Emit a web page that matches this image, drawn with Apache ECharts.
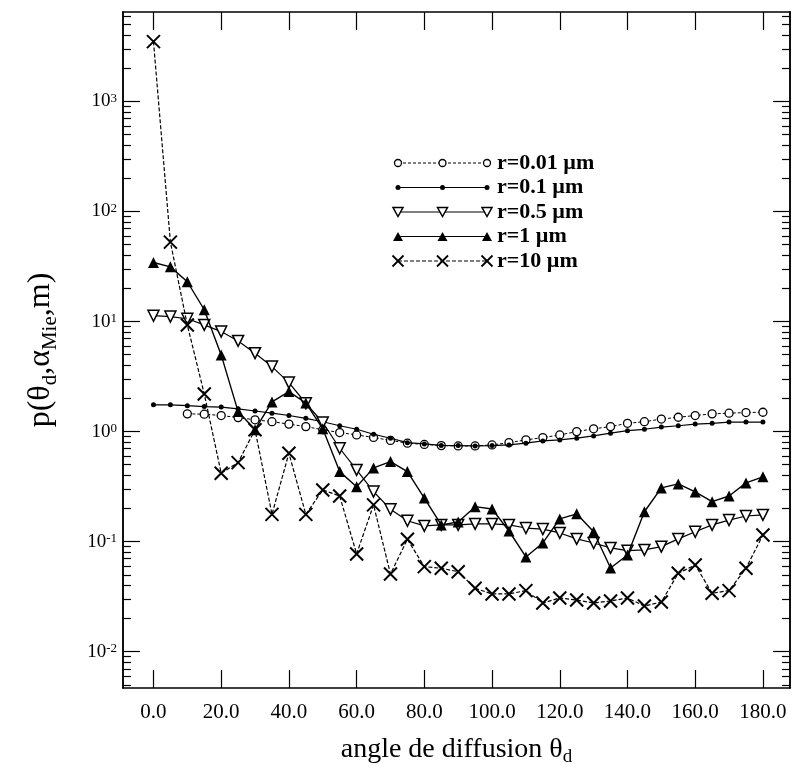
<!DOCTYPE html>
<html><head><meta charset="utf-8">
<script src="https://cdn.jsdelivr.net/npm/echarts@6/dist/echarts.min.js"></script>
<style>html,body{margin:0;padding:0;background:#fff}#c{width:794px;height:775px}</style>
</head><body><div id="c"></div>
<script>
// ---- data (angles in degrees, phase function values) ----
const angles = [0,5,10,15,20,25,30,35,40,45,50,55,60,65,70,75,80,85,90,95,100,105,110,115,120,125,130,135,140,145,150,155,160,165,170,175,180];
const r001 = [null,null,1.45,1.44,1.40,1.34,1.28,1.23,1.17,1.11,1.04,0.98,0.933,0.885,0.832,0.785,0.765,0.746,0.741,0.741,0.757,0.794,0.841,0.882,0.933,1.0,1.06,1.11,1.19,1.23,1.30,1.35,1.40,1.45,1.47,1.49,1.50];
const r01  = [1.75,1.75,1.72,1.69,1.67,1.61,1.54,1.47,1.40,1.32,1.23,1.13,1.05,0.947,0.871,0.794,0.773,0.749,0.746,0.741,0.746,0.757,0.785,0.823,0.841,0.871,0.914,0.967,1.02,1.05,1.10,1.13,1.17,1.19,1.22,1.22,1.22];
const r05  = [11.3,11.1,10.6,9.33,8.11,6.67,5.16,3.90,2.79,1.81,1.21,0.706,0.449,0.285,0.197,0.155,0.139,0.142,0.142,0.145,0.145,0.142,0.133,0.130,0.120,0.106,0.0973,0.0877,0.0828,0.0841,0.0901,0.106,0.123,0.142,0.157,0.171,0.175];
const r1   = [34.4,31.4,23.0,12.8,4.98,1.52,1.04,1.86,2.31,1.82,1.06,0.433,0.316,0.468,0.534,0.433,0.249,0.142,0.151,0.208,0.198,0.125,0.0726,0.0973,0.161,0.179,0.123,0.0577,0.0757,0.187,0.308,0.335,0.283,0.231,0.260,0.342,0.388];
const r10  = [3500,52.7,9.3,2.2,0.419,0.523,1.04,0.177,0.636,0.177,0.295,0.26,0.0773,0.216,0.0508,0.105,0.0593,0.0573,0.0533,0.0377,0.0335,0.0335,0.0359,0.0277,0.0308,0.0295,0.0277,0.0289,0.0308,0.026,0.0283,0.0516,0.0614,0.034,0.0359,0.0573,0.115];
const seriesNames = ['r=0.01 \u00b5m','r=0.1 \u00b5m','r=0.5 \u00b5m','r=1 \u00b5m','r=10 \u00b5m'];
const xTicks = [0,20,40,60,80,100,120,140,160,180];
const yMajor = [0.01,0.1,1,10,100,1000];
const yMinor = [0.005,0.006,0.007,0.008,0.009,0.02,0.03,0.04,0.05,0.06,0.07,0.08,0.09,0.2,0.3,0.4,0.5,0.6,0.7,0.8,0.9,2,3,4,5,6,7,8,9,20,30,40,50,60,70,80,90,200,300,400,500,600,700,800,900,2000,3000,4000,5000,6000];
const X_MIN = -9, X_MAX = 188, Y_MIN = 0.00468, Y_MAX = 6500;

const FONT = '"Liberation Serif", "Times New Roman", serif';
function pairs(vals){ const out=[]; vals.forEach((v,i)=>{ if(v!=null) out.push([angles[i], v]); }); return out; }

const xPath = 'path://M0,0L10,10M10,0L0,10';
const styles = [
  {symbol:'circle', size:8, fill:'#fff', bw:1.3, dash:[3,2], lw:1},
  {symbol:'circle', size:5, fill:'#000', bw:0, dash:'solid', lw:1.2},
  {symbol:'triangle', size:11, fill:'#fff', bw:1.5, dash:'solid', lw:1.2, rot:180},
  {symbol:'triangle', size:11, fill:'#000', bw:0, dash:'solid', lw:1.4},
  {symbol:xPath, size:13, fill:'transparent', bw:2, dash:[4,2], lw:1.2}
];
const dataSets = [r001, r01, r05, r1, r10];

const series = dataSets.map((d,k)=>{
  const s = styles[k];
  return {
    name: seriesNames[k], type:'line', data: pairs(d),
    symbol: s.symbol, symbolSize: s.size, symbolRotate: s.rot || 0,
    showAllSymbol: true,
    itemStyle: {color: s.fill, borderColor:'#000', borderWidth: s.bw, opacity:1},
    lineStyle: {color:'#000', width: s.lw, type: s.dash},
    z: 2 + k, animation:false
  };
});

// legend drawn as graphic (line + 3 markers + label)
const legendRows = [163, 187.5, 212, 236.5, 261];
const lgX = [398, 442.5, 487];
const graphics = [];
legendRows.forEach((y,k)=>{
  const s = styles[k];
  graphics.push({type:'line', shape:{x1:lgX[0],y1:y,x2:lgX[2],y2:y}, style:{stroke:'#000', lineWidth:1, lineDash: Array.isArray(s.dash)? s.dash : null}, z:100});
  lgX.forEach(x=>{
    let el;
    if(k===0) el={type:'circle', shape:{cx:x,cy:y,r:3.5}, style:{fill:'#fff',stroke:'#000',lineWidth:1.3}};
    else if(k===1) el={type:'circle', shape:{cx:x,cy:y,r:2.5}, style:{fill:'#000'}};
    else if(k===2) el={type:'polygon', shape:{points:[[x-5,y-4.5],[x+5,y-4.5],[x,y+4.5]]}, style:{fill:'#fff',stroke:'#000',lineWidth:1.5}};
    else if(k===3) el={type:'polygon', shape:{points:[[x-5,y+4.5],[x+5,y+4.5],[x,y-4.5]]}, style:{fill:'#000'}};
    else el={type:'polyline', shape:{points:[[x-5.5,y-5.5],[x+5.5,y+5.5]]}, style:{stroke:'#000',lineWidth:1.8}};
    el.z=101; graphics.push(el);
    if(k===4) graphics.push({type:'polyline', shape:{points:[[x+5.5,y-5.5],[x-5.5,y+5.5]]}, style:{stroke:'#000',lineWidth:1.8}, z:101});
  });
  graphics.push({type:'text', style:{text:seriesNames[k], x:497, y:y, verticalAlign:'middle', font:'bold 22px '+FONT, fill:'#000'}, z:101});
});

const axLine = {show:true, onZero:false, lineStyle:{color:'#000', width:1.5}};
const yLabelFmt = v => '{b|10}{s|' + Math.round(Math.log10(v)) + '}';
const yLabelRich = {b:{fontSize:19, fontFamily:FONT, color:'#000', verticalAlign:'top'}, s:{fontSize:13, fontFamily:FONT, color:'#000', verticalAlign:'top'}};

function yAx(pos, ticks, len, label){
  return {
    type:'log', logBase:10, min:Y_MIN, max:Y_MAX, position:pos,
    axisLine: axLine,
    axisTick:{show:true, inside:true, length:len, customValues:ticks, lineStyle:{color:'#000', width:1.2}},
    axisLabel: label ? {show:true, customValues:ticks, formatter:yLabelFmt, rich:yLabelRich, margin:6} : {show:false},
    splitLine:{show:false}, minorTick:{show:false},
    name: label && pos==='left' ? 'p(\u03b8{sd|d},\u03b1{sd|Mie},m)' : '',
    nameLocation:'middle', nameRotate:90, nameGap:62,
    nameTextStyle:{fontFamily:FONT, fontSize:32, color:'#000',
      rich:{sd:{fontFamily:FONT, fontSize:21, color:'#000', verticalAlign:'top', padding:[20,0,0,0]}}}
  };
}

const option = {
  animation:false,
  backgroundColor:'#fff',
  grid:{left:123, right:4, top:12, bottom:87, containLabel:false},
  xAxis:[
    {type:'value', min:X_MIN, max:X_MAX, position:'bottom', axisLine:axLine,
     axisTick:{show:true, inside:true, length:18, customValues:xTicks, lineStyle:{color:'#000',width:1.2}},
     axisLabel:{show:true, customValues:xTicks, formatter:v=>Number(v).toFixed(1), fontFamily:FONT, fontSize:21, color:'#000', margin:14},
     splitLine:{show:false},
     name:'angle de diffusion \u03b8{sd|d}', nameLocation:'middle', nameGap:44,
     nameTextStyle:{fontFamily:FONT, fontSize:28, color:'#000',
       rich:{sd:{fontFamily:FONT, fontSize:19, color:'#000', verticalAlign:'top', padding:[16,0,0,0]}}}},
    {type:'value', min:X_MIN, max:X_MAX, position:'top', axisLine:axLine,
     axisTick:{show:true, inside:true, length:18, customValues:xTicks, lineStyle:{color:'#000',width:1.2}},
     axisLabel:{show:false}, splitLine:{show:false}}
  ],
  yAxis:[
    yAx('left', yMajor, 17, true),
    yAx('right', yMajor, 17, false),
    yAx('left', yMinor, 8, false),
    yAx('right', yMinor, 8, false)
  ],
  series: series,
  graphic: graphics
};
const chart = echarts.init(document.getElementById('c'), null, {renderer:'canvas'});
chart.setOption(option);
</script></body></html>
